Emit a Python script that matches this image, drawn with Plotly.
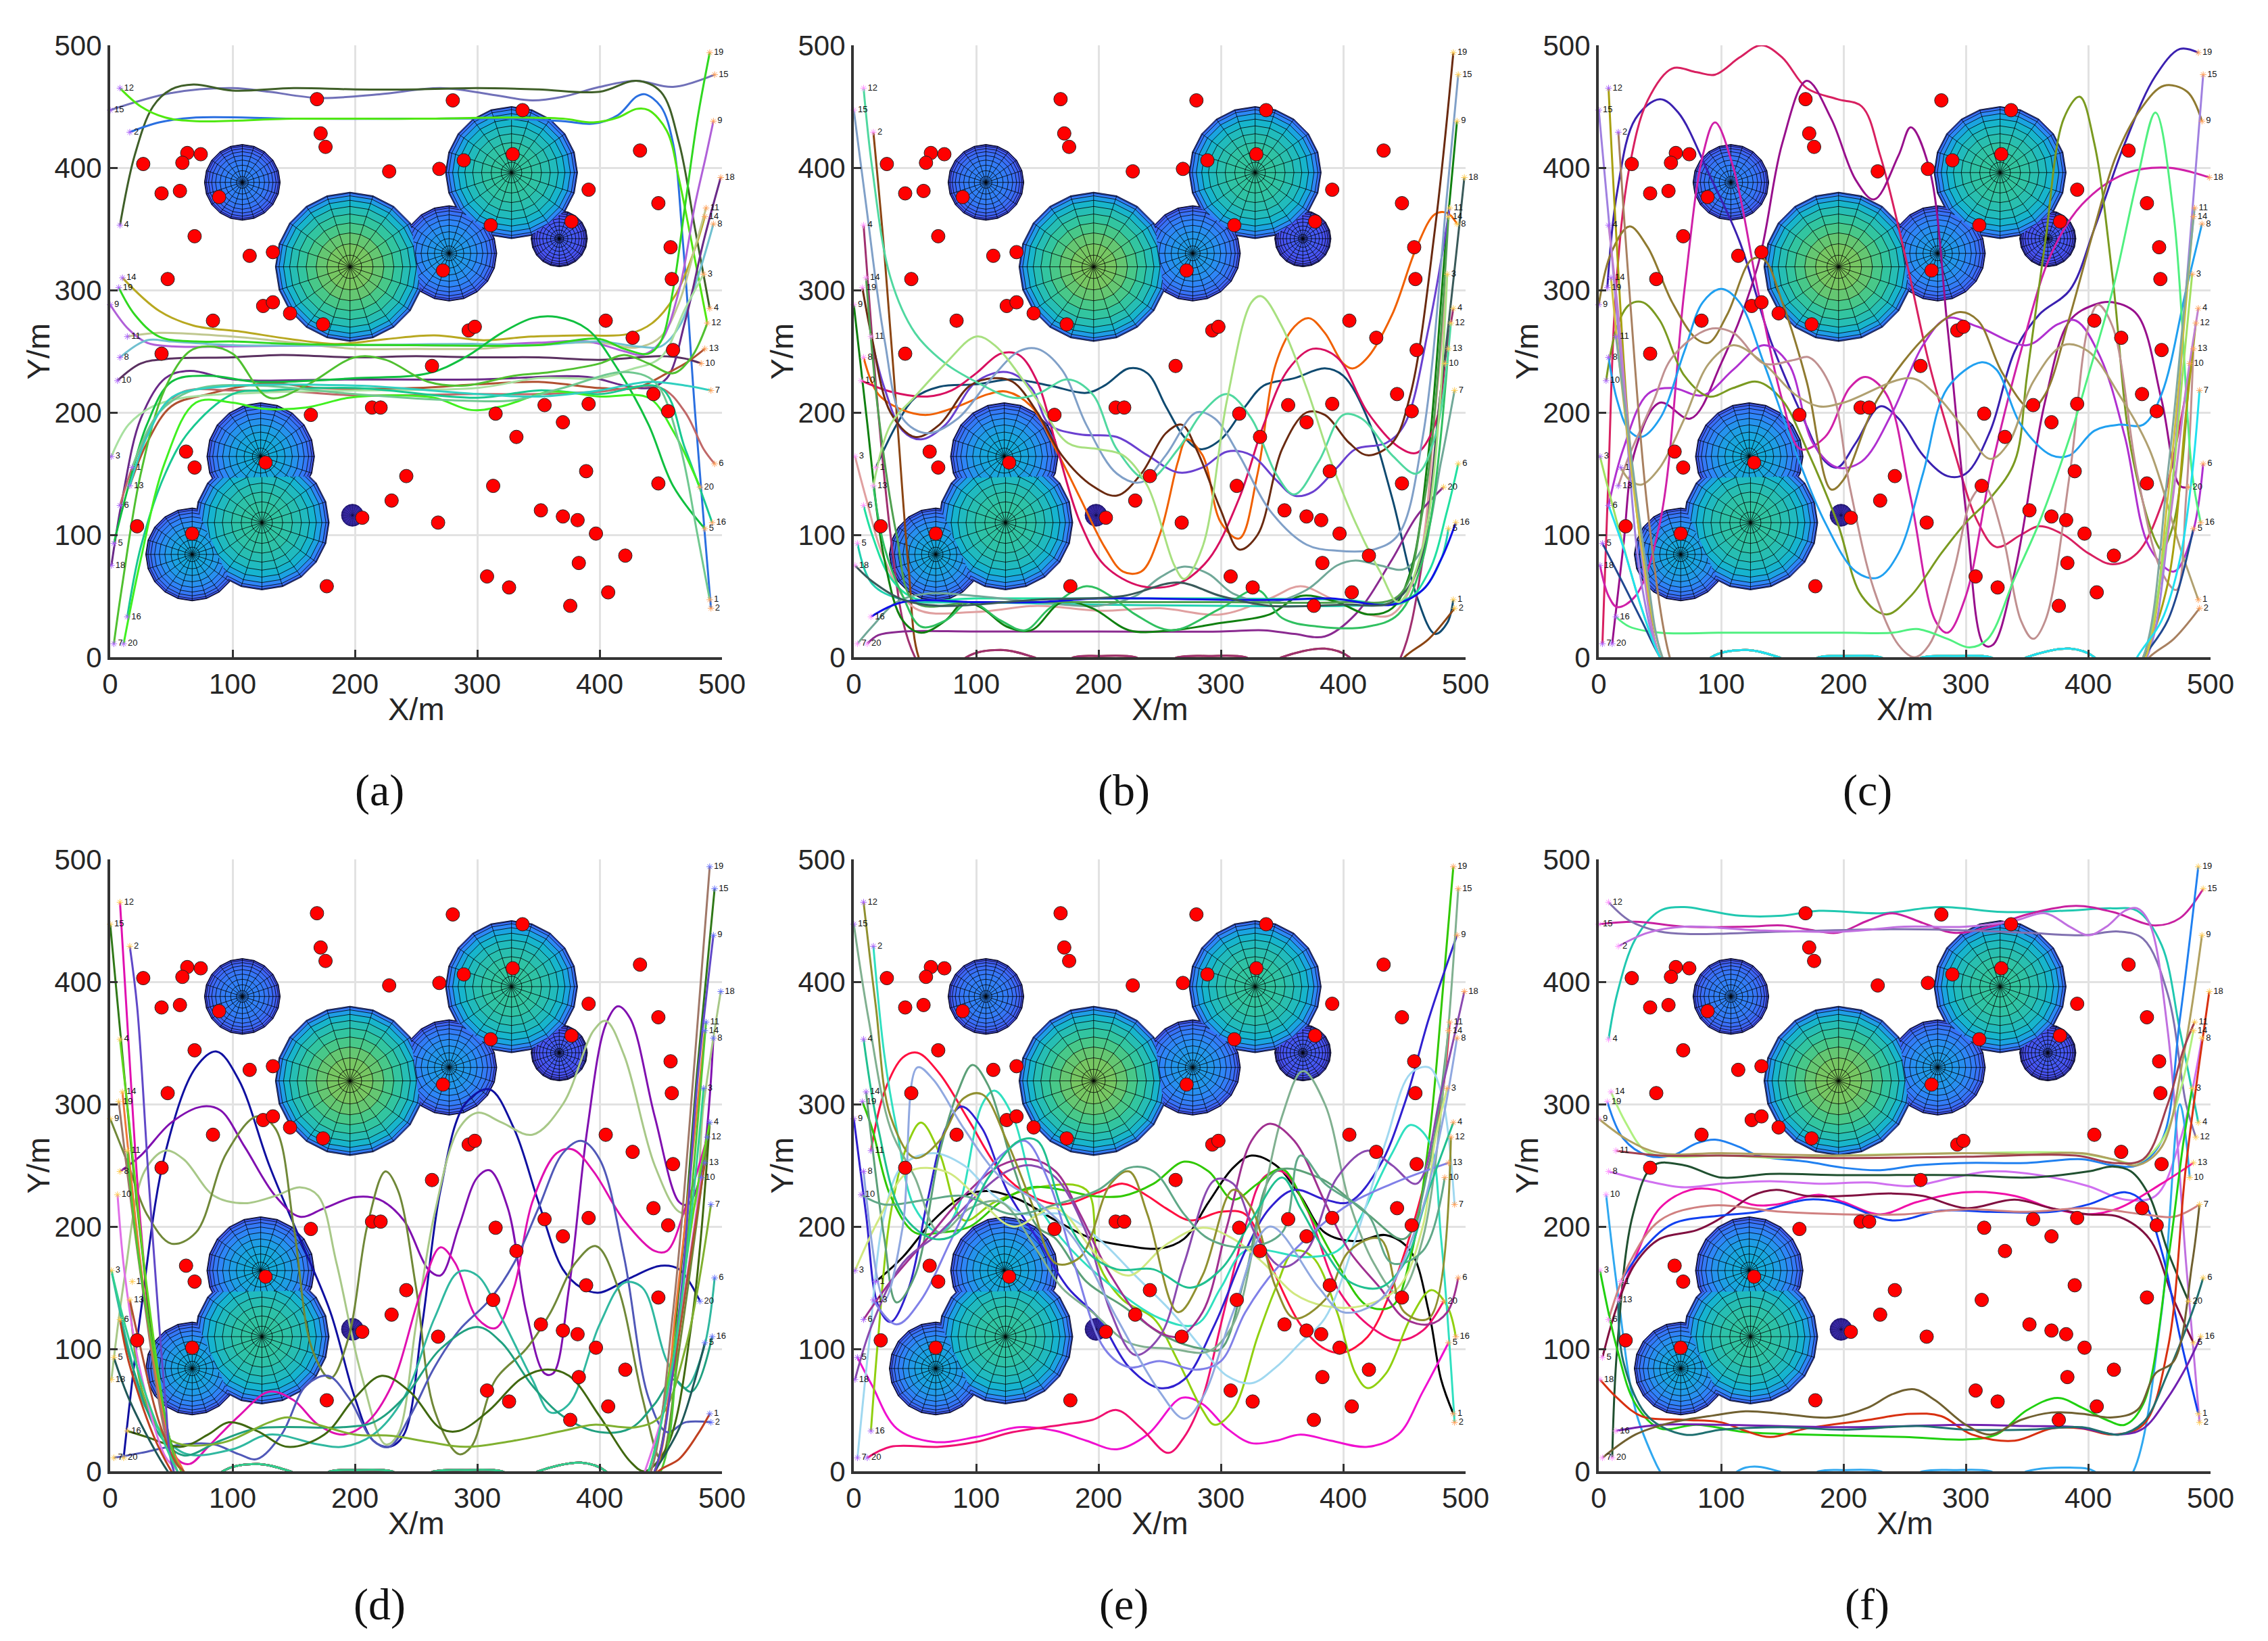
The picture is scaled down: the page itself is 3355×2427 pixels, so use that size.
import math
import plotly.graph_objects as go

TICKS = [0, 100, 200, 300, 400, 500]
CAPTIONS = ["(a)", "(b)", "(c)", "(d)", "(e)", "(f)"]

# obstacles: centre x, centre y, radius, colour level at the summit
DOME_X = [108, 196, 277, 328, 367, 123, 124, 67, 198]
DOME_Y = [388, 319, 330, 396, 342, 164, 110, 84, 116]
DOME_R = [31, 61, 39, 54, 23, 44, 55, 38, 9]
DOME_PEAK = [0.29, 0.69, 0.35, 0.58, 0.17, 0.39, 0.57, 0.38, 0.03]

DOT_X = [27, 63, 74, 59, 42, 57, 89, 69, 114, 133, 47, 84, 125, 133, 147, 174, 169, 172, 176, 228, 269, 289, 329, 337, 280, 391, 311, 377, 272, 433, 448, 458, 459, 405, 427, 460, 293, 298, 263, 444, 456, 391, 355, 370, 315, 332, 214, 221, 164, 42, 389, 448, 313, 242, 230, 268, 206, 352, 370, 382, 397, 421, 383, 308, 326, 376, 407, 177, 22, 67, 62, 69, 127]
DOT_Y = [403, 412, 411, 404, 379, 381, 376, 344, 328, 331, 309, 275, 287, 290, 281, 272, 456, 428, 417, 397, 399, 406, 411, 447, 455, 382, 353, 356, 316, 414, 371, 335, 309, 275, 261, 251, 267, 270, 238, 215, 201, 207, 206, 192, 199, 180, 204, 204, 198, 248, 152, 142, 140, 148, 128, 110, 114, 120, 115, 112, 101, 83, 77, 66, 57, 42, 53, 58, 107, 101, 168, 155, 159]

START = {"1": (18, 155), "2": (16, 429), "3": (1, 164), "4": (8, 353), "5": (3, 93), "6": (8, 124), "7": (3, 11), "8": (8, 245), "9": (0, 288), "10": (6, 226), "11": (14, 262), "12": (8, 465), "13": (16, 140), "14": (10, 310), "15": (0, 447), "16": (14, 33), "18": (1, 75), "19": (7, 302), "20": (11, 11)}
END = {"1": (490, 47), "2": (491, 40), "3": (485, 313), "4": (490, 285), "5": (486, 105), "6": (494, 158), "7": (491, 218), "8": (493, 354), "9": (493, 438), "10": (483, 240), "11": (487, 367), "12": (488, 273), "13": (486, 252), "14": (486, 360), "15": (494, 476), "16": (492, 110), "18": (499, 392), "19": (490, 494), "20": (482, 139)}

# stretch of a path that runs under the lower axis, peeping above it in places
U = [(70, -30), (92, 0), (120, 6), (147, 0), (165, -8), (180, 0), (200, 1), (230, 0), (245, -8), (265, 0), (290, 1), (320, 0), (335, -8), (350, 0), (385, 7), (405, 0), (425, -30)]

A_CURVES = [
    ("15", "15", "#7070b8", [(50, 461), (100, 465), (130, 462), (170, 457), (220, 460), (270, 465), (310, 460), (345, 455), (370, 458), (400, 466), (430, 471), (460, 466)]),
    ("4", "4", "#3f5f28", [(20, 410), (35, 450), (50, 464), (68, 468), (100, 463), (150, 465), (200, 464), (250, 464), (300, 465), (350, 464), (400, 462), (430, 471), (450, 462), (465, 420), (478, 350)]),
    ("2", "2", "#2a6fe0", [(40, 437), (70, 441), (150, 440), (250, 440), (330, 440), (370, 438), (395, 436), (415, 443), (430, 458), (437, 460), (450, 450), (460, 420), (468, 340), (478, 200), (486, 100)]),
    ("12", "12", "#50e810", [(25, 450), (45, 441), (70, 438), (150, 440), (250, 440), (330, 441), (370, 440), (395, 437), (415, 441), (430, 448), (440, 447), (455, 430), (465, 390), (475, 340)]),
    ("14", "14", "#b8a820", [(40, 283), (68, 271), (107, 266), (147, 260), (186, 256), (226, 260), (265, 263), (305, 259), (344, 262), (384, 263), (423, 264), (443, 273), (462, 296), (478, 334)]),
    ("11", "11", "#c0c890", [(40, 265), (100, 262), (150, 257), (200, 252), (250, 252), (300, 252), (350, 256), (400, 257), (430, 253), (450, 262), (465, 290), (478, 335)]),
    ("9", "9", "#b060d8", [(15, 268), (30, 257), (50, 254), (100, 254), (200, 255), (300, 255), (350, 257), (390, 258), (420, 250), (435, 247), (450, 258), (465, 300), (478, 370), (487, 410)]),
    ("8", "8", "#70c0d0", [(30, 259), (50, 258), (100, 255), (200, 255), (300, 256), (350, 255), (400, 258), (430, 254), (450, 254), (465, 270), (480, 310)]),
    ("19", "19", "#30d820", [(20, 280), (40, 262), (70, 258), (100, 258), (150, 256), (250, 255), (350, 255), (400, 260), (420, 252), (440, 248), (450, 258), (460, 300), (470, 370), (480, 440)]),
    ("10", "10", "#5a3060", [(25, 240), (50, 244), (100, 245), (140, 247), (200, 245), (250, 246), (300, 245), (350, 245), (400, 243), (450, 246), (470, 244)]),
    ("18", "18", "#6a2a88", [(10, 130), (25, 195), (45, 228), (65, 234), (100, 227), (200, 227), (300, 227), (390, 229), (420, 222), (440, 220), (455, 228), (470, 275), (485, 340)]),
    ("13", "13", "#b05030", [(30, 175), (50, 205), (80, 215), (130, 224), (170, 220), (250, 220), (300, 223), (350, 225), (400, 220), (430, 220), (455, 232), (470, 240)]),
    ("6", "6", "#c06868", [(20, 160), (40, 200), (60, 217), (100, 218), (150, 217), (200, 214), (300, 215), (350, 215), (400, 217), (450, 220), (470, 200), (485, 170)]),
    ("3", "3", "#a8e0a0", [(15, 190), (35, 205), (60, 212), (120, 216), (200, 218), (300, 220), (350, 228), (400, 228), (425, 235), (450, 245), (470, 285)]),
    ("5", "5", "#10c040", [(15, 140), (30, 190), (50, 225), (80, 230), (120, 225), (200, 228), (260, 232), (290, 245), (320, 265), (345, 277), (365, 278), (390, 268), (415, 235), (440, 190), (460, 140)]),
    ("16", "16", "#18c890", [(25, 90), (45, 150), (65, 185), (100, 215), (130, 218), (200, 220), (300, 212), (350, 218), (400, 215), (450, 220), (470, 170)]),
    ("7", "12", "#50c030", [(10, 60), (25, 150), (45, 220), (65, 250), (80, 254), (100, 248), (130, 212), (160, 222), (200, 245), (225, 243), (260, 225), (290, 222), (330, 230), (360, 233), (400, 240), (420, 247), (440, 240), (460, 232), (475, 245)]),
    ("20", "20", "#40f020", [(25, 80), (45, 160), (70, 208), (100, 208), (125, 203), (160, 204), (195, 212), (230, 214), (265, 212), (295, 202), (320, 205), (360, 217), (400, 213), (440, 212), (460, 185)]),
    ("1", "1", "#70c890", [(40, 200), (70, 219), (120, 222), (200, 215), (280, 210), (330, 210), (370, 220), (420, 233), (445, 225), (465, 175), (480, 100)]),
    ("13", "7", "#30d0c0", [(30, 180), (50, 212), (80, 220), (200, 222), (300, 215), (350, 213), (400, 218), (440, 225), (470, 222)]),
]

B_CURVES = [
    ("1", "1", "#0f4a70", [(35, 190), (50, 212), (70, 221), (100, 223), (130, 227), (160, 222), (190, 216), (205, 222), (225, 236), (240, 232), (255, 205), (270, 180), (283, 170), (300, 178), (320, 205), (335, 222), (360, 228), (385, 236), (400, 230), (420, 195), (440, 130), (460, 50), (475, 19), (485, 28)]),
    ("2", "2", "#8b4513", [(25, 330), (35, 200), (45, 70), (53, 0), *U, (450, 0), (470, 15)]),
    ("3", "3", "#e0a0a0", [(10, 130), (25, 80), (50, 40), (100, 37), (150, 42), (200, 38), (250, 40), (300, 35), (340, 48), (365, 58), (390, 48), (420, 35), (440, 35), (460, 70), (475, 200)]),
    ("4", "4", "#a03070", [(12, 300), (20, 200), (30, 100), (40, 30), (50, 0), *U, (447, 0), (465, 80), (480, 220)]),
    ("5", "5", "#20d0b0", [(15, 60), (40, 47), (100, 45), (200, 43), (300, 42), (400, 42), (440, 44), (465, 55), (480, 80)]),
    ("6", "6", "#20e0a0", [(15, 100), (30, 65), (50, 48), (100, 48), (200, 48), (300, 48), (400, 47), (450, 45), (470, 70), (485, 120)]),
    ("20", "20", "#8a2a90", [(20, 18), (40, 21), (100, 21), (200, 21), (300, 21), (335, 22), (360, 19), (385, 17), (410, 35), (440, 80), (460, 115)]),
    ("7", "7", "#70a898", [(15, 25), (35, 45), (60, 52), (100, 50), (150, 45), (200, 42), (230, 50), (250, 65), (270, 74), (290, 68), (310, 52), (340, 45), (370, 55), (395, 75), (410, 79), (430, 75), (450, 72), (465, 90), (480, 160)]),
    ("8", "8", "#f06000", [(20, 215), (40, 202), (60, 198), (85, 205), (110, 215), (125, 217), (145, 205), (165, 170), (185, 130), (205, 90), (220, 70), (235, 70), (250, 100), (265, 160), (272, 178), (285, 165), (300, 110), (315, 97), (330, 150), (345, 240), (360, 270), (372, 277), (385, 265), (400, 240), (408, 236), (420, 245), (440, 280), (460, 335), (475, 362), (485, 363)]),
    ("9", "9", "#108010", [(10, 200), (25, 80), (40, 30), (55, 20), (75, 30), (90, 45), (105, 40), (125, 25), (145, 22), (170, 45), (195, 40), (225, 22), (260, 22), (300, 28), (340, 35), (365, 50), (395, 45), (420, 35), (440, 40), (455, 70), (470, 170), (483, 330)]),
    ("10", "10", "#d81060", [(30, 217), (60, 213), (80, 218), (100, 232), (120, 248), (135, 247), (150, 225), (165, 175), (185, 110), (205, 75), (235, 58), (265, 60), (290, 80), (315, 130), (335, 190), (355, 235), (375, 252), (395, 245), (420, 200), (445, 172), (460, 167), (475, 190)]),
    ("11", "11", "#6a40d0", [(25, 220), (40, 185), (55, 178), (75, 190), (100, 225), (125, 233), (145, 220), (160, 190), (185, 182), (215, 180), (240, 165), (265, 151), (285, 155), (305, 168), (325, 165), (345, 145), (360, 132), (375, 135), (395, 155), (410, 170), (435, 175), (450, 190), (470, 270)]),
    ("13", "13", "#30c060", [(25, 90), (40, 50), (55, 25), (75, 30), (95, 45), (120, 30), (140, 22), (160, 40), (190, 58), (210, 50), (230, 35), (260, 22), (300, 40), (330, 55), (350, 32), (380, 25), (420, 25), (445, 35), (465, 80)]),
    ("19", "19", "#6a2a10", [(15, 260), (30, 200), (50, 180), (70, 190), (95, 222), (115, 228), (130, 225), (150, 200), (170, 165), (195, 140), (215, 132), (235, 150), (255, 183), (268, 190), (280, 170), (300, 120), (315, 88), (330, 100), (350, 170), (370, 200), (385, 198), (405, 175), (420, 165), (440, 175), (455, 215), (475, 350)]),
    ("14", "14", "#50a050", [(20, 200), (35, 100), (50, 45), (100, 45), (300, 45), (400, 45), (445, 50), (465, 120)]),
    ("15", "15", "#80a0c8", [(10, 370), (25, 260), (40, 195), (60, 183), (85, 195), (110, 225), (135, 250), (150, 252), (170, 235), (190, 190), (215, 150), (235, 143), (255, 165), (280, 200), (295, 195), (315, 165), (340, 120), (370, 92), (395, 87), (425, 88), (445, 100), (465, 180), (485, 380)]),
    ("16", "16", "#1010e8", [(40, 45), (100, 45), (150, 45), (200, 48), (240, 48), (300, 47), (350, 47), (390, 48), (440, 43), (465, 55), (480, 80)]),
    ("18", "18", "#3a5a5a", [(15, 62), (40, 47), (70, 42), (150, 47), (220, 50), (265, 61), (300, 50), (340, 42), (400, 43), (440, 45), (460, 70), (480, 220)]),
    ("12", "12", "#50d8a0", [(15, 400), (30, 310), (50, 265), (75, 240), (100, 225), (130, 212), (150, 215), (175, 227), (195, 215), (215, 170), (240, 145), (265, 170), (285, 200), (305, 215), (325, 195), (345, 150), (360, 133), (380, 160), (400, 198), (415, 195), (440, 165), (460, 150), (475, 180)]),
    ("13", "3", "#a8e080", [(30, 190), (50, 213), (75, 240), (100, 262), (115, 255), (150, 210), (175, 175), (200, 170), (220, 165), (240, 140), (262, 75), (270, 64), (285, 90), (305, 210), (325, 290), (333, 295), (350, 270), (370, 220), (390, 160), (410, 110), (430, 70), (445, 45), (465, 90)]),
]

C_CURVES = [
    ("19", "19", "#3a20b0", [(15, 380), (30, 440), (50, 456), (65, 445), (90, 395), (115, 340), (140, 260), (165, 200), (185, 160), (195, 155), (210, 175), (230, 205), (245, 195), (265, 165), (285, 148), (300, 150), (320, 185), (340, 250), (360, 280), (385, 300), (405, 350), (430, 420), (455, 475), (475, 497)]),
    ("7", "13", "#d82060", [(8, 150), (14, 300), (25, 400), (40, 455), (60, 481), (80, 478), (95, 476), (115, 490), (133, 500), (150, 490), (170, 465), (195, 456), (215, 450), (230, 410), (250, 330), (270, 240), (290, 170), (310, 110), (325, 90), (345, 100), (360, 107), (380, 100), (400, 85), (420, 76), (440, 85), (460, 125), (475, 190)]),
    ("20", "20", "#98108c", [(20, 90), (30, 170), (50, 208), (75, 195), (100, 240), (130, 320), (150, 420), (170, 471), (190, 440), (210, 390), (225, 374), (245, 410), (255, 433), (270, 400), (285, 270), (300, 120), (315, 10), (322, 10), (340, 70), (365, 210), (385, 275), (405, 288), (420, 290), (440, 280), (460, 210), (475, 140)]),
    ("18", "18", "#d020a8", [(8, 50), (15, 41), (30, 50), (50, 110), (70, 300), (85, 410), (95, 437), (110, 400), (130, 300), (150, 210), (165, 170), (185, 180), (205, 220), (218, 229), (235, 215), (255, 130), (275, 30), (285, 20), (300, 50), (320, 150), (345, 250), (370, 330), (395, 370), (430, 395), (465, 400)]),
    ("6", "6", "#b030d0", [(20, 170), (40, 215), (60, 220), (85, 214), (110, 235), (135, 255), (155, 240), (175, 175), (195, 155), (215, 160), (240, 200), (265, 255), (285, 277), (310, 270), (350, 255), (375, 272), (390, 275), (410, 245), (430, 180), (450, 90), (470, 70), (485, 100)]),
    ("9", "9", "#8f7a30", [(10, 330), (25, 352), (40, 335), (60, 290), (80, 260), (90, 257), (105, 280), (125, 325), (135, 325), (150, 290), (170, 225), (190, 137), (200, 145), (228, 211), (271, 266), (295, 282), (310, 275), (330, 232), (353, 203), (365, 215), (384, 275), (404, 347), (423, 410), (443, 448), (462, 467), (481, 462)]),
    ("10", "10", "#7a9a20", [(15, 270), (25, 288), (36, 290), (50, 275), (70, 230), (90, 213), (110, 220), (130, 225), (150, 210), (170, 170), (195, 110), (215, 50), (235, 35), (255, 50), (280, 85), (300, 110), (320, 130), (340, 160), (350, 230), (365, 340), (380, 440), (393, 458), (405, 420), (420, 310), (435, 170), (455, 95), (460, 88), (470, 110)]),
    ("8", "8", "#20a0f0", [(15, 210), (25, 185), (35, 180), (50, 195), (70, 250), (85, 290), (100, 301), (115, 290), (135, 240), (160, 170), (185, 110), (210, 70), (228, 65), (245, 85), (265, 150), (285, 220), (313, 241), (325, 235), (345, 190), (370, 165), (385, 165), (405, 185), (425, 190), (445, 190), (460, 215), (480, 300)]),
    ("13", "13", "#c09090", [(25, 165), (45, 210), (60, 245), (90, 268), (110, 265), (135, 240), (160, 243), (172, 245), (190, 220), (205, 140), (225, 55), (245, 10), (258, 0), (270, 10), (290, 70), (305, 130), (315, 140), (330, 100), (345, 30), (355, 15), (365, 30), (385, 150), (400, 270), (408, 288), (420, 270), (440, 150), (460, 70), (472, 55), (480, 130)]),
    ("1", "1", "#b0a070", [(25, 145), (35, 141), (50, 155), (70, 195), (90, 240), (110, 255), (135, 240), (160, 215), (180, 205), (200, 208), (255, 228), (275, 215), (300, 185), (320, 162), (335, 175), (355, 225), (380, 255), (400, 250), (425, 215), (450, 170), (475, 90)]),
    ("16", "16", "#50f080", [(25, 25), (50, 20), (100, 20), (200, 20), (240, 20), (260, 23), (285, 15), (303, 8), (318, 15), (340, 65), (360, 110), (385, 180), (400, 230), (420, 300), (440, 390), (455, 445), (470, 360), (485, 150)]),
    ("2", "2", "#a88060", [(25, 300), (40, 120), (58, 0), *U, (450, 0), (470, 15)]),
    ("12", "12", "#a8a010", [(14, 350), (25, 180), (40, 50), (50, 0), *U, (445, 0), (465, 60), (480, 200)]),
    ("15", "15", "#a080e0", [(8, 360), (20, 220), (35, 60), (50, 0), *U, (448, 0), (465, 100), (480, 300)]),
    ("4", "4", "#c080d0", [(15, 290), (30, 130), (50, 0), *U, (445, 0), (465, 100), (480, 220)]),
    ("5", "5", "#204890", [(20, 60), (35, 30), (50, 0), *U, (445, 0), (465, 30)]),
    ("14", "14", "#d0c040", [(18, 230), (35, 90), (52, 0), *U, (447, 0), (465, 130), (480, 290)]),
    ("3", "3", "#a0e060", [(15, 110), (35, 40), (50, 0), *U, (445, 0), (465, 110), (478, 240)]),
    ("11", "11", "#80a8a0", [(22, 200), (38, 80), (52, 0), *U, (445, 0), (465, 150), (480, 300)]),
    ("6", "7", "#20e0f0", [(20, 90), (35, 40), (50, 0), *U, (440, 0), (460, 30), (475, 80), (485, 150)]),
]

D_CURVES = [
    ("20", "20", "#1010a0", [(25, 130), (45, 260), (70, 330), (87, 343), (105, 320), (130, 250), (155, 190), (180, 130), (200, 60), (215, 25), (228, 20), (240, 30), (255, 120), (270, 230), (290, 300), (310, 312), (330, 280), (350, 220), (370, 165), (385, 150), (400, 146), (425, 158), (450, 168), (465, 165)]),
    ("8", "8", "#8010b0", [(25, 258), (50, 285), (75, 298), (90, 295), (110, 265), (135, 225), (155, 208), (175, 215), (200, 224), (220, 222), (240, 205), (260, 165), (270, 160), (285, 200), (300, 240), (310, 246), (325, 215), (340, 130), (355, 80), (362, 80), (375, 150), (390, 280), (405, 365), (415, 380), (425, 370), (445, 290), (465, 220), (472, 218), (482, 240)]),
    ("18", "18", "#a8c888", [(12, 160), (28, 245), (45, 262), (60, 255), (85, 225), (110, 219), (135, 225), (155, 232), (170, 225), (185, 170), (205, 80), (225, 22), (235, 30), (250, 120), (265, 210), (285, 280), (300, 293), (320, 285), (345, 275), (370, 300), (395, 360), (405, 368), (420, 340), (445, 250), (465, 212), (475, 212), (485, 300)]),
    ("9", "4", "#708838", [(15, 250), (30, 210), (50, 186), (70, 195), (95, 260), (120, 290), (135, 280), (150, 200), (165, 100), (180, 76), (195, 110), (210, 200), (225, 245), (235, 230), (250, 150), (265, 50), (285, 14), (295, 20), (315, 75), (340, 100), (360, 130), (380, 170), (397, 184), (415, 150), (435, 60), (450, 10), (465, 100)]),
    ("12", "12", "#e010b0", [(15, 350), (25, 200), (40, 60), (55, 10), (65, 6), (80, 20), (105, 45), (130, 65), (150, 58), (170, 38), (190, 30), (210, 40), (230, 70), (255, 150), (270, 183), (282, 170), (300, 125), (315, 117), (330, 150), (345, 220), (365, 260), (378, 263), (395, 245), (420, 205), (445, 180), (455, 180), (470, 215)]),
    ("7", "2", "#5058b8", [(25, 15), (60, 22), (85, 22), (105, 14), (120, 10), (140, 30), (160, 70), (178, 78), (195, 60), (215, 25), (228, 20), (245, 45), (265, 85), (285, 115), (310, 140), (330, 170), (350, 215), (370, 260), (385, 270), (400, 255), (420, 175), (440, 60), (455, 32), (470, 40)]),
    ("3", "6", "#30b8a0", [(15, 100), (30, 50), (60, 15), (100, 18), (130, 30), (170, 22), (190, 20), (215, 30), (240, 60), (265, 125), (285, 163), (300, 160), (320, 125), (345, 75), (360, 48), (375, 55), (400, 120), (420, 154), (435, 150), (455, 90), (470, 68), (485, 100)]),
    ("6", "16", "#20a080", [(20, 80), (40, 30), (60, 13), (90, 25), (120, 35), (190, 36), (215, 40), (240, 60), (270, 100), (300, 118), (320, 105), (345, 70), (370, 45), (400, 32), (425, 35), (445, 55), (460, 75), (475, 65)]),
    ("16", "4", "#406810", [(30, 28), (58, 20), (80, 30), (97, 40), (120, 33), (145, 20), (175, 30), (200, 60), (222, 78), (245, 65), (270, 35), (285, 33), (310, 50), (335, 75), (355, 83), (375, 78), (400, 45), (425, 8), (437, 0), (455, 20), (475, 120)]),
    ("13", "7", "#80b030", [(28, 60), (50, 25), (90, 23), (130, 40), (145, 44), (170, 38), (200, 30), (230, 29), (260, 24), (290, 20), (330, 25), (370, 33), (395, 38), (430, 36), (450, 45), (470, 100)]),
    ("15", "15", "#307818", [(10, 340), (25, 190), (45, 40), (58, 0), *U, (445, 0), (465, 150), (480, 330)]),
    ("4", "4", "#60d820", [(15, 290), (30, 150), (50, 20), (58, 0), *U, (440, 0), (460, 100), (478, 220)]),
    ("19", "19", "#a07868", [(12, 260), (25, 160), (45, 30), (55, 0), *U, (442, 0), (460, 130), (478, 340)]),
    ("14", "14", "#f07838", [(15, 260), (30, 130), (50, 20), (60, 0), *U, (446, 0), (462, 130), (478, 280)]),
    ("11", "11", "#50c830", [(20, 200), (35, 100), (55, 5), (60, 0), *U, (450, 0), (465, 120), (478, 260)]),
    ("10", "10", "#e070e8", [(12, 160), (25, 80), (45, 12), (55, 0), *U, (437, 0), (455, 60), (470, 150)]),
    ("13", "13", "#b05030", [(25, 100), (40, 40), (55, 5), (60, 0), *U, (445, 0), (460, 80), (475, 180)]),
    ("5", "5", "#205858", [(15, 60), (35, 20), (47, 0), *U, (445, 0), (465, 35), (478, 75)]),
    ("2", "9", "#6048c8", [(22, 380), (32, 230), (45, 60), (52, 0), *U, (445, 0), (465, 130), (480, 320)]),
    ("6", "1", "#c04020", [(15, 90), (35, 30), (50, 0), *U, (448, 0), (465, 10), (480, 30)]),
    ("3", "3", "#30d090", [(12, 120), (30, 60), (50, 10), (55, 0), *U, (440, 0), (460, 90), (475, 210)]),
]

E_CURVES = [
    ("1", "1", "#000000", [(40, 175), (65, 205), (90, 225), (110, 229), (135, 222), (165, 205), (195, 190), (225, 184), (250, 182), (270, 190), (290, 220), (310, 248), (325, 258), (345, 250), (365, 225), (385, 195), (410, 188), (435, 193), (455, 180), (470, 130), (480, 75)]),
    ("11", "11", "#ff1040", [(25, 310), (40, 338), (52, 342), (70, 325), (95, 285), (120, 245), (145, 225), (170, 218), (200, 228), (220, 235), (240, 225), (255, 215), (275, 205), (300, 212), (320, 210), (340, 170), (365, 120), (385, 100), (400, 97), (420, 110), (440, 150), (465, 230), (480, 300)]),
    ("5", "5", "#f010d0", [(15, 70), (35, 35), (65, 24), (100, 28), (135, 36), (165, 33), (190, 25), (215, 18), (240, 30), (268, 60), (285, 55), (305, 35), (325, 23), (345, 25), (365, 30), (390, 25), (420, 20), (445, 30), (465, 65)]),
    ("20", "20", "#f01070", [(30, 20), (70, 20), (100, 24), (130, 32), (170, 38), (195, 42), (215, 50), (235, 35), (257, 15), (270, 28), (285, 60), (300, 120), (320, 200), (335, 240), (350, 245), (370, 215), (395, 150), (420, 120), (445, 107), (465, 115)]),
    ("16", "16", "#90d010", [(20, 110), (30, 210), (45, 270), (55, 285), (70, 260), (90, 205), (115, 220), (150, 232), (190, 230), (200, 170), (220, 140), (245, 125), (265, 90), (285, 50), (295, 38), (310, 50), (330, 110), (345, 150), (360, 180), (375, 175), (395, 130), (410, 80), (420, 68), (435, 80), (455, 125), (472, 148), (485, 135)]),
    ("19", "19", "#30c800", [(15, 280), (30, 225), (50, 195), (70, 195), (95, 200), (120, 220), (145, 232), (170, 230), (195, 225), (220, 225), (245, 235), (270, 253), (290, 245), (310, 222), (330, 235), (350, 247), (370, 215), (395, 170), (420, 135), (440, 135), (455, 175), (470, 270), (482, 400)]),
    ("2", "2", "#30e0c0", [(25, 340), (35, 280), (50, 215), (70, 195), (85, 215), (105, 300), (115, 311), (130, 290), (150, 220), (170, 190), (200, 160), (250, 125), (280, 120), (300, 150), (320, 180), (370, 175), (395, 180), (410, 200), (440, 260), (455, 283), (470, 270), (480, 190)]),
    ("9", "9", "#3020d0", [(10, 210), (20, 135), (30, 122), (45, 150), (60, 220), (75, 280), (88, 298), (105, 280), (125, 230), (150, 190), (175, 150), (200, 125), (225, 85), (250, 68), (270, 75), (295, 120), (320, 180), (340, 215), (360, 230), (385, 222), (405, 220), (430, 250), (450, 300), (470, 370)]),
    ("7", "7", "#a0d8f0", [(12, 100), (25, 210), (40, 250), (65, 260), (90, 250), (115, 225), (140, 210), (170, 210), (200, 190), (230, 160), (260, 130), (285, 100), (305, 78), (325, 72), (345, 85), (365, 105), (385, 125), (410, 190), (435, 270), (455, 325), (470, 330), (480, 310)]),
    ("14", "14", "#5ca078", [(25, 190), (35, 138), (50, 160), (70, 260), (85, 310), (97, 332), (110, 315), (130, 250), (150, 200), (165, 190), (190, 155), (220, 135), (255, 110), (285, 100), (300, 100), (320, 160), (345, 245), (380, 240), (420, 210), (450, 190), (470, 250)]),
    ("15", "15", "#80b090", [(12, 370), (30, 280), (50, 240), (70, 195), (95, 215), (120, 220), (150, 180), (170, 150), (195, 130), (225, 105), (260, 100), (290, 98), (310, 120), (330, 200), (350, 290), (367, 327), (385, 300), (405, 220), (425, 170), (445, 145), (465, 190)]),
    ("6", "6", "#a03090", [(30, 155), (60, 190), (90, 225), (120, 250), (145, 255), (165, 245), (185, 210), (210, 160), (240, 120), (265, 110), (285, 130), (305, 200), (325, 270), (340, 284), (360, 270), (385, 220), (405, 180), (430, 150), (450, 125), (470, 120), (485, 130)]),
    ("18", "18", "#8a4ab0", [(15, 120), (40, 170), (70, 195), (100, 225), (125, 245), (145, 250), (165, 240), (190, 195), (210, 130), (230, 95), (250, 110), (270, 170), (295, 238), (310, 235), (330, 190), (350, 167), (370, 180), (395, 240), (420, 262), (440, 250), (460, 235), (480, 310)]),
    ("13", "13", "#8080e8", [(35, 120), (55, 140), (80, 190), (105, 240), (125, 262), (140, 270), (160, 235), (180, 170), (205, 100), (225, 85), (250, 90), (280, 83), (300, 90), (320, 130), (345, 165), (400, 215), (440, 235)]),
    ("3", "3", "#d0e880", [(20, 205), (45, 245), (75, 245), (100, 225), (130, 200), (165, 215), (200, 175), (225, 160), (255, 185), (285, 199), (310, 190), (335, 170), (360, 145), (385, 135), (415, 135), (445, 150), (465, 200), (475, 270)]),
    ("12", "12", "#909030", [(18, 380), (30, 290), (50, 256), (70, 270), (90, 305), (105, 308), (125, 270), (145, 220), (165, 170), (185, 175), (210, 235), (225, 245), (240, 210), (265, 130), (285, 160), (310, 230), (325, 215), (345, 150), (360, 125), (385, 140), (405, 180), (430, 190), (450, 130), (470, 125)]),
    ("10", "10", "#60a888", [(25, 218), (60, 222), (90, 225), (130, 210), (165, 218), (200, 230), (225, 248), (245, 245), (270, 210), (290, 190), (320, 183), (350, 195), (365, 258), (385, 235), (420, 210), (440, 170), (465, 180)]),
    ("4", "4", "#20c090", [(20, 280), (40, 210), (65, 190), (85, 195), (110, 240), (135, 270), (150, 270), (170, 215), (190, 180), (215, 165), (245, 165), (275, 150), (300, 165), (325, 205), (350, 240), (365, 215), (385, 180), (405, 155), (430, 150), (450, 170), (470, 230)]),
    ("8", "8", "#90a8e0", [(25, 140), (40, 200), (52, 330), (65, 320), (90, 280), (120, 240), (150, 220), (180, 190), (215, 125), (250, 65), (270, 43), (285, 60), (310, 130), (340, 200), (380, 150), (400, 130), (430, 140), (460, 200), (480, 280)]),
]

F_CURVES = [
    ("4", "4", "#20c8b0", [(15, 390), (30, 435), (50, 458), (70, 461), (90, 458), (115, 454), (150, 454), (180, 458), (230, 456), (280, 461), (330, 457), (380, 458), (420, 460), (440, 458), (460, 430), (475, 360)]),
    ("15", "15", "#c820a0", [(30, 449), (70, 445), (120, 445), (150, 446), (170, 443), (195, 440), (220, 450), (240, 456), (265, 448), (290, 440), (320, 445), (350, 455), (390, 462), (420, 457), (455, 446), (475, 452)]),
    ("12", "12", "#8070b0", [(25, 450), (50, 441), (75, 439), (150, 441), (250, 443), (300, 442), (350, 440), (395, 438), (425, 441), (445, 435), (465, 390), (480, 300)]),
    ("2", "2", "#c070e0", [(40, 440), (70, 445), (130, 442), (200, 441), (250, 445), (300, 445), (340, 450), (365, 456), (385, 445), (400, 438), (415, 445), (430, 458), (440, 460), (450, 448), (465, 360), (480, 170)]),
    ("19", "19", "#2080f0", [(20, 272), (40, 258), (60, 258), (80, 268), (95, 271), (115, 265), (130, 258), (170, 253), (200, 248), (230, 246), (260, 250), (300, 252), (350, 252), (395, 255), (420, 250), (440, 250), (460, 270), (475, 370)]),
    ("14", "14", "#b0f080", [(22, 285), (38, 262), (60, 257), (100, 258), (150, 256), (200, 258), (300, 260), (390, 260), (420, 255), (440, 252), (460, 270), (475, 310)]),
    ("9", "9", "#b0a060", [(25, 270), (50, 260), (100, 260), (200, 258), (300, 260), (350, 259), (395, 260), (420, 255), (440, 250), (460, 265), (478, 340)]),
    ("11", "11", "#a04050", [(50, 258), (100, 258), (200, 256), (300, 257), (390, 258), (420, 252), (445, 255), (465, 300), (478, 345)]),
    ("8", "8", "#d070f0", [(40, 237), (70, 232), (100, 235), (140, 237), (180, 235), (220, 236), (255, 233), (290, 240), (320, 245), (360, 242), (400, 233), (430, 222), (455, 225), (475, 270)]),
    ("10", "10", "#30a8f0", [(15, 150), (30, 50), (45, 10), (50, 0), (70, -30), (120, 3), (147, 0), (165, -8), (180, 0), (200, 1), (230, 0), (245, -8), (265, 0), (290, 1), (320, 0), (335, -8), (350, 0), (385, 3), (405, 0), (420, -20), (437, 0), (460, 130), (475, 300)]),
    ("20", "20", "#205030", [(15, 100), (28, 210), (45, 250), (70, 250), (100, 240), (140, 243), (200, 242), (300, 242), (350, 240), (400, 245), (420, 249), (435, 245), (450, 225), (465, 180)]),
    ("13", "13", "#f010a8", [(30, 175), (50, 215), (75, 230), (95, 230), (125, 218), (145, 218), (180, 226), (200, 220), (230, 210), (260, 220), (300, 228), (340, 225), (370, 215), (400, 210), (425, 215), (460, 235)]),
    ("5", "5", "#801040", [(15, 135), (30, 170), (50, 190), (80, 197), (100, 207), (125, 225), (145, 230), (170, 225), (200, 225), (240, 227), (265, 225), (300, 215), (340, 222), (370, 215), (400, 210), (425, 208), (450, 190), (470, 140)]),
    ("1", "1", "#1040f0", [(35, 180), (60, 202), (100, 209), (130, 212), (170, 222), (195, 220), (240, 205), (280, 213), (320, 212), (370, 212), (400, 218), (430, 228), (445, 220), (460, 180), (475, 110)]),
    ("6", "7", "#d08080", [(25, 170), (50, 205), (90, 217), (150, 212), (200, 210), (250, 210), (300, 214), (350, 212), (400, 215), (445, 210), (470, 208)]),
    ("3", "3", "#20d010", [(15, 100), (30, 55), (50, 35), (80, 38), (120, 32), (170, 30), (250, 28), (300, 26), (325, 30), (350, 50), (375, 60), (395, 52), (415, 42), (430, 38), (445, 55), (465, 170), (478, 270)]),
    ("18", "18", "#d83010", [(15, 60), (35, 45), (70, 42), (100, 40), (120, 33), (140, 28), (170, 35), (220, 42), (255, 47), (280, 45), (305, 30), (340, 25), (370, 35), (395, 35), (420, 30), (445, 38), (465, 100), (480, 250)]),
    ("16", "16", "#7020b0", [(50, 38), (100, 38), (200, 36), (300, 38), (350, 37), (390, 36), (425, 30), (445, 35), (465, 60), (480, 85)]),
    ("13", "6", "#207070", [(20, 90), (40, 45), (70, 30), (100, 34), (150, 36), (200, 34), (260, 37), (300, 34), (350, 34), (395, 36), (425, 30), (445, 40), (465, 80), (485, 130)]),
    ("7", "7", "#706030", [(30, 30), (60, 40), (90, 45), (120, 49), (150, 47), (190, 44), (220, 52), (240, 63), (258, 67), (275, 58), (300, 38), (320, 30), (345, 42), (370, 48), (395, 47), (420, 44), (440, 50), (455, 80), (470, 90), (485, 170)]),
]

PANEL_CURVES = [A_CURVES, B_CURVES, C_CURVES, D_CURVES, E_CURVES, F_CURVES]

# the page has an 8 px body margin, so the figure is 16 px smaller than the window
PAGE = 8
W, H = 3355 - 2 * PAGE, 2427 - 2 * PAGE
PANEL_PX = [(163, 1068, 67, 972), (1263, 2168, 67, 972), (2365, 3270, 67, 972),
            (163, 1068, 1271, 2176), (1263, 2168, 1271, 2176), (2365, 3270, 1271, 2176)]
CAPTION_XY = [(561, 1169), (1662, 1169), (2762, 1169), (561, 2373), (1662, 2373), (2762, 2373)]

PARULA = [(0.0, (.2422, .1504, .6603)), (.14, (.2810, .3228, .9579)), (.30, (.1786, .5289, .9682)),
          (.40, (.0689, .6948, .8394)), (.60, (.2161, .7843, .5923)), (.75, (.6720, .7793, .2227))]


def parula(t):
    for (a, ca), (b, cb) in zip(PARULA, PARULA[1:]):
        if t <= b:
            f = max(0, (t - a) / (b - a))
            return "rgb(%d,%d,%d)" % tuple(round(255 * (x + f * (y - x))) for x, y in zip(ca, cb))
    return "rgb(171,199,57)"


def planes(i):
    """Domes overlapping dome i; each one trims it where the other stands higher."""
    out = []
    for j in range(len(DOME_X)):
        if j != i and math.hypot(DOME_X[i] - DOME_X[j], DOME_Y[i] - DOME_Y[j]) < DOME_R[i] + DOME_R[j]:
            out.append(j)
    return out


def height_gap(p, i, j):
    hi = DOME_R[i] ** 2 - (p[0] - DOME_X[i]) ** 2 - (p[1] - DOME_Y[i]) ** 2
    hj = DOME_R[j] ** 2 - (p[0] - DOME_X[j]) ** 2 - (p[1] - DOME_Y[j]) ** 2
    return hi - hj


def cut(p, q, fp, fq):
    s = fp / (fp - fq)
    return (p[0] + s * (q[0] - p[0]), p[1] + s * (q[1] - p[1]))


def clip_polygon(poly, i):
    for j in planes(i):
        res = []
        for k, p in enumerate(poly):
            q = poly[(k + 1) % len(poly)]
            fp, fq = height_gap(p, i, j), height_gap(q, i, j)
            if fp >= 0:
                res.append(p)
            if (fp >= 0) != (fq >= 0):
                res.append(cut(p, q, fp, fq))
        poly = res
        if not poly:
            break
    return poly


def clip_segment(p, q, i):
    for j in planes(i):
        fp, fq = height_gap(p, i, j), height_gap(q, i, j)
        if fp < 0 and fq < 0:
            return None
        if fp < 0:
            p = cut(p, q, fp, fq)
        elif fq < 0:
            q = cut(p, q, fp, fq)
    return p, q


SIDES = 20
fig = go.Figure()
layout = {}
annotations = []
TITLE_FONT = dict(family="Liberation Sans", size=47, color="#262626")

for n, curves in enumerate(PANEL_CURVES):
    sx = "" if n == 0 else str(n + 1)
    xa, ya = "x" + sx, "y" + sx
    common = dict(xaxis=xa, yaxis=ya, hoverinfo="skip", showlegend=False)

    # domes
    mx, my, tx, ty = [], [], [], []
    for i in range(len(DOME_X)):
        cx, cy, R, peak = DOME_X[i], DOME_Y[i], DOME_R[i], DOME_PEAK[i]
        base = min(0.07, peak * 0.5)
        bx, by = (tx, ty) if R < 15 else (mx, my)
        for k in range(9, -1, -1):
            rr = R * math.sin(math.radians(9 * (k + 1)))
            poly = [(cx + rr * math.cos(math.radians(18 * a)), cy + rr * math.sin(math.radians(18 * a))) for a in range(SIDES)]
            poly = clip_polygon(poly, i)
            t = base + (peak - base) * math.cos(math.radians(9 * k))
            fig.add_trace(go.Scatter(x=[p[0] for p in poly] + [poly[0][0]], y=[p[1] for p in poly] + [poly[0][1]],
                                     mode="lines", fill="toself", fillcolor=parula(t),
                                     line=dict(width=0.5, color=parula(t)), **common))
        for k in range(1, 11):
            rr = R * math.sin(math.radians(9 * k))
            for a in range(SIDES):
                p = (cx + rr * math.cos(math.radians(18 * a)), cy + rr * math.sin(math.radians(18 * a)))
                q = (cx + rr * math.cos(math.radians(18 * (a + 1))), cy + rr * math.sin(math.radians(18 * (a + 1))))
                seg = clip_segment(p, q, i)
                if seg:
                    bx += [seg[0][0], seg[1][0], None]
                    by += [seg[0][1], seg[1][1], None]
        for a in range(SIDES):
            p = (cx, cy)
            q = (cx + R * math.cos(math.radians(18 * a)), cy + R * math.sin(math.radians(18 * a)))
            seg = clip_segment(p, q, i)
            if seg:
                bx += [seg[0][0], seg[1][0], None]
                by += [seg[0][1], seg[1][1], None]
    fig.add_trace(go.Scatter(x=mx, y=my, mode="lines", line=dict(color="rgba(0,0,0,0.8)", width=1), **common))
    fig.add_trace(go.Scatter(x=tx, y=ty, mode="lines", line=dict(color="rgba(0,0,30,0.55)", width=0.5), **common))

    # paths
    sc, ec = {}, {}
    for s, e, col, pts in curves:
        full = [START[s]] + list(pts) + [END[e]]
        sc.setdefault(s, col)
        ec.setdefault(e, col)
        fig.add_trace(go.Scatter(x=[p[0] for p in full], y=[p[1] for p in full], mode="lines",
                                 line=dict(color=col, width=3, shape="spline", smoothing=1.0), **common))

    # targets
    fig.add_trace(go.Scatter(x=DOT_X, y=DOT_Y, mode="markers",
                             marker=dict(color="#ff0000", size=20, line=dict(color="#222222", width=1)), **common))

    # endpoint stars and numbers
    for table, used in ((START, sc), (END, ec)):
        keys = list(table)
        fig.add_trace(go.Scatter(x=[table[k][0] for k in keys], y=[table[k][1] for k in keys],
                                 mode="markers+text", text=keys, textposition="middle right",
                                 textfont=dict(family="Liberation Sans", size=13, color="#111111"),
                                 marker=dict(symbol="asterisk-open", size=8,
                                             line=dict(width=1, color=[used.get(k, "#555555") for k in keys])),
                                 cliponaxis=False, **common))

    x0, x1, y0, y1 = [v - PAGE for v in PANEL_PX[n]]
    axis = dict(range=[0, 500], tickvals=TICKS, ticktext=[str(t) for t in TICKS], ticks="inside", ticklen=11, tickwidth=3,
                tickcolor="#333333", showline=True, linewidth=4, linecolor="#333333", showgrid=True,
                gridcolor="#e2e2e2", gridwidth=3, zeroline=False, mirror=False, automargin=False,
                tickfont=dict(family="Liberation Sans", size=42, color="#262626"))
    layout["xaxis" + sx] = dict(axis, domain=[x0 / W, x1 / W], anchor=ya)
    layout["yaxis" + sx] = dict(axis, domain=[1 - y1 / H, 1 - y0 / H], anchor=xa)
    annotations.append(dict(text="X/m", x=(x0 + x1) / 2 / W, y=1 - (y1 + 76) / H, xref="paper", yref="paper", showarrow=False,
                            xanchor="center", yanchor="middle", font=TITLE_FONT))
    annotations.append(dict(text="Y/m", x=(x0 - 107) / W, y=1 - (y0 + y1) / 2 / H, xref="paper", yref="paper", showarrow=False,
                            xanchor="center", yanchor="middle", textangle=-90, font=TITLE_FONT))
    cxp, cyp = CAPTION_XY[n]
    annotations.append(dict(text=CAPTIONS[n], x=(cxp - PAGE) / W, y=1 - (cyp - PAGE) / H, xref="paper", yref="paper", showarrow=False,
                            xanchor="center", yanchor="middle",
                            font=dict(family="Liberation Serif", size=66, color="#111111")))

fig.update_layout(width=W, height=H, autosize=False, margin=dict(l=0, r=0, t=0, b=0), paper_bgcolor="white",
                  plot_bgcolor="white", showlegend=False, annotations=annotations, **layout)
fig.write_html("out.html")
